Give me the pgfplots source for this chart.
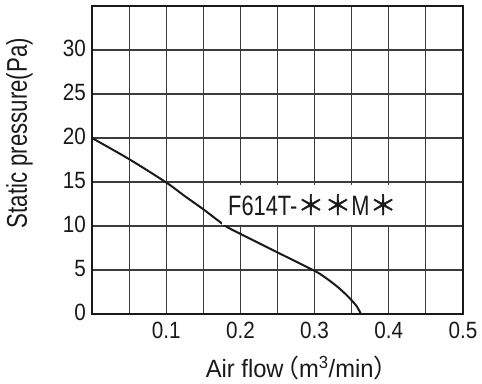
\documentclass[border=0pt]{standalone}
\usepackage{fontspec}
\setmainfont{Liberation Sans}
\newfontfamily\condfont[FakeStretch=0.78]{Liberation Sans}
\newfontfamily\tickfont[FakeStretch=0.88]{Liberation Sans}
\newfontfamily\xfont[FakeStretch=0.95]{Liberation Sans}
\newfontfamily\cjk[FakeBold=1.2]{Noto Sans CJK JP}
\newfontfamily\cjkp{Noto Sans CJK JP}
\usepackage{pgfplots}
\pgfplotsset{compat=1.18}
\definecolor{gridc}{HTML}{3C3C3C}
\definecolor{linec}{HTML}{1A1A1A}
\begin{document}
\begin{tikzpicture}
\useasboundingbox (0,0) rectangle (482bp,384bp);
\begin{axis}[
  at={(92bp,70bp)}, anchor=south west,
  scale only axis, width=371bp, height=308bp,
  xmin=0, xmax=0.5, ymin=0, ymax=35,
  xtick={0,0.1,0.2,0.3,0.4,0.5},
  xticklabels={,0.1,0.2,0.3,0.4,0.5},
  minor xtick={0.05,0.15,0.25,0.35,0.45},
  ytick={0,5,10,15,20,25,30,35},
  yticklabels={0,5,10,15,20,25,30,},
  major tick length=0pt, minor tick length=0pt,
  grid=both,
  major grid style={gridc, line width=1.1bp},
  minor grid style={gridc, line width=1.1bp},
  axis line style={linec, line width=1.5bp},
  tick label style={font=\tickfont\fontsize{23.5bp}{25bp}\selectfont, text=linec},
  /pgf/number format/assume math mode=true,
  xticklabel style={anchor=base, inner sep=0pt, yshift=-24bp},
  yticklabel style={anchor=east, inner sep=0pt, xshift=-6bp, yshift=1.5bp},
  xlabel={Air flow\makebox[0.62em][r]{\cjkp（}m\textsuperscript{3}/min\makebox[0.42em][l]{\cjkp）}},
  xlabel style={at={(axis description cs:0.547,0)}, anchor=base, yshift=-63bp, inner sep=0pt, font=\xfont\fontsize{25bp}{27bp}\selectfont, text=linec},
  ylabel={Static pressure(Pa)},
  ylabel style={at={(axis description cs:0,0.587)}, anchor=base, yshift=65bp, inner sep=0pt, font=\condfont\fontsize{28.5bp}{30bp}\selectfont, text=linec},
]
\addplot[linec, line width=2bp, smooth, tension=0.45] coordinates {
(0,20) (0.05,17.6) (0.1,14.95) (0.125,13.4) (0.15,11.9) (0.18,10.0) (0.2,9.1)
(0.25,7.0) (0.3,4.9) (0.31,4.4) (0.32,3.8) (0.33,3.15) (0.34,2.4) (0.35,1.55) (0.357,0.85) (0.3625,0)
};
\node[fill=white, anchor=base west, inner xsep=6bp, inner ysep=0pt, text height=30bp, text depth=10bp, font=\condfont\fontsize{28bp}{30bp}\selectfont, text=linec]
  at (axis cs:0.1752,11.25) {F614T-{\cjk\fontsize{27bp}{30bp}\selectfont ＊＊}M{\cjk\fontsize{27bp}{30bp}\selectfont ＊}};
\end{axis}
\end{tikzpicture}
\end{document}
